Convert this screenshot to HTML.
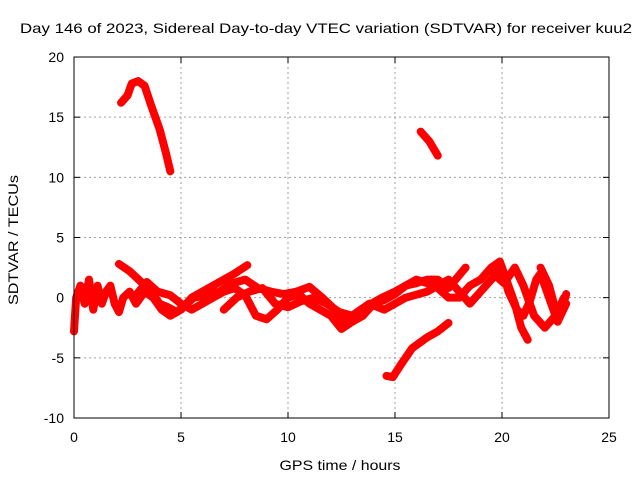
<!DOCTYPE html>
<html><head><meta charset="utf-8"><style>
body{margin:0;background:#fff}
svg{display:block;font-family:"Liberation Sans",sans-serif}
</style></head><body>
<svg id="chart" width="640" height="480">
<rect width="640" height="480" fill="#fff"/>
<text x="326" y="33" font-size="14" text-anchor="middle" textLength="612" lengthAdjust="spacingAndGlyphs">Day 146 of 2023, Sidereal Day-to-day VTEC variation (SDTVAR) for receiver kuu2</text>
<text x="340" y="470" font-size="14" text-anchor="middle" textLength="121" lengthAdjust="spacingAndGlyphs">GPS time / hours</text>
<text x="18" y="240" font-size="14" text-anchor="middle" textLength="130" lengthAdjust="spacingAndGlyphs" transform="rotate(-90 18 240)">SDTVAR / TECUs</text>
<g id="grid"></g>
<g id="ticks"></g>
<g id="series"></g>
<rect x="74" y="57" width="535" height="361" fill="none" stroke="#000" stroke-width="1"/>
</svg>
<script>
const xTicks=[0,5,10,15,20,25];
const yTicks=[-10,-5,0,5,10,15,20];
const trackA=[[0,-2.8],[0.1,0],[0.3,1],[0.5,-0.5],[0.7,1.5],[0.9,-1],[1.1,1],[1.3,-0.5],[1.5,0.5],[1.7,1],[1.9,-0.5],[2.1,-1.2],[2.3,0],[2.6,0.5],[2.9,-0.5],[3.3,0.5],[3.7,0],[4.1,-1],[4.5,-1.5],[5,-1],[5.5,0],[6,0.5],[6.5,1],[7,1.5],[7.5,2],[8.1,2.7]];
const trackB=[[2.1,2.8],[2.6,2.2],[3.2,1.2],[3.6,0.5],[4.0,-0.5],[4.4,-0.8],[4.8,-1.2],[5.2,-0.6],[5.6,0],[6.2,0.2],[6.8,0.5],[7.4,1.2],[8,1.5],[8.6,0.8],[9.2,0.5],[9.8,0.3],[10.4,0.5],[11,0.9],[11.6,0],[12.2,-1],[12.6,-2],[13,-1.5],[13.4,-1],[13.8,-0.6],[14.4,0],[15,0.5],[15.5,1],[16,1.2],[16.5,1.5],[17,1.5],[17.5,0.8],[18.3,2.5]];
const trackC=[[2.8,0],[3.4,1.3],[3.9,0.5],[4.5,0.2],[5,-0.5],[5.5,-1],[6,-0.5],[6.5,0],[7,0.5],[7.5,0.8],[8,0.2],[8.5,-1.5],[9,-1.8],[9.5,-1],[10,0],[10.5,0.3],[11,-0.5],[11.5,-1],[12,-1.5],[12.5,-2.6],[13,-2],[13.5,-1.5],[14,-0.5],[14.5,-0.2],[15,0.3],[15.5,1],[16,1.5],[16.5,1.2],[17,0.8],[17.5,0],[18,0],[18.5,1],[19,1.5],[19.5,2.5],[19.9,3],[20.2,1.5],[20.6,-0.5],[20.9,-2.5],[21.2,-3.5]];
const trackD=[[7,-1],[7.6,0],[8.2,0.5],[8.8,0.8],[9.4,-0.5],[10,-0.8],[10.6,-0.3],[11.2,0],[11.8,-0.5],[12.4,-1.2],[13,-1.5],[13.8,-0.5],[14.5,-1],[15,-0.5],[15.5,0],[16.5,0.5],[17.5,1.5],[18,0.5],[18.5,-0.5],[19,0.5],[19.5,1.5],[20,2.5],[20.3,0.5],[20.7,-1],[21,-1.5],[21.3,-0.3],[21.6,1.5],[21.8,2],[22.2,0],[22.6,-2],[23,-0.5]];
const trackE=[[19.6,2],[20.1,1.2],[20.6,2.5],[21,1],[21.5,-1.5],[22,-2.5],[22.5,-1.5],[22.9,0]];
const trackF=[[21.8,2.5],[22.2,1],[22.5,-1],[22.8,-1],[23,0.3]];
const trackHigh=[[2.2,16.2],[2.5,16.8],[2.7,17.8],[3.0,18],[3.3,17.6],[3.6,16],[4.0,14],[4.3,12],[4.5,10.5]];
const trackMid=[[16.2,13.8],[16.6,13],[17.0,11.8]];
const trackLow=[[14.6,-6.5],[14.9,-6.6],[15.3,-5.5],[15.8,-4.2],[16.5,-3.3],[17.0,-2.8],[17.5,-2.1]];
const tracks=[trackA,trackB,trackC,trackD,trackE,trackF,trackHigh,trackMid,trackLow];
const X0=74,X1=609,Y0=418,Y1=57;
const sx=h=>X0+(h-0)/25*(X1-X0);
const sy=v=>Y0-(v+10)/30*(Y0-Y1);
const NS="http://www.w3.org/2000/svg";
const grid=document.getElementById('grid'),ticks=document.getElementById('ticks'),series=document.getElementById('series');
function mk(tag,at,parent){const e=document.createElementNS(NS,tag);for(const k in at)e.setAttribute(k,at[k]);parent.appendChild(e);return e;}
xTicks.forEach(t=>{
  const x=sx(t);
  if(t>0&&t<25){const g=mk('line',{x1:x,x2:x,y1:Y1,y2:Y0,stroke:'#a0a0a0','stroke-dasharray':'2,3'},grid);
  
  }
  mk('line',{x1:x,x2:x,y1:Y0,y2:Y0-6,stroke:'#000'},ticks);
  mk('line',{x1:x,x2:x,y1:Y1,y2:Y1+6,stroke:'#000'},ticks);
  const l=mk('text',{x:x,y:Y0+24,'font-size':14,'text-anchor':'middle'},ticks);l.textContent=t;
  
  
});
yTicks.forEach(t=>{
  const y=sy(t);
  if(t>-10&&t<20){const g=mk('line',{x1:X0,x2:X1,y1:y,y2:y,stroke:'#a0a0a0','stroke-dasharray':'2,3'},grid);
  
  }
  mk('line',{x1:X0,x2:X0+6,y1:y,y2:y,stroke:'#000'},ticks);
  mk('line',{x1:X1,x2:X1-6,y1:y,y2:y,stroke:'#000'},ticks);
  const l=mk('text',{x:X0-10,y:y+5,'font-size':14,'text-anchor':'end'},ticks);l.textContent=t;
  
  
});
tracks.forEach(tr=>{
  const p=mk('polyline',{points:tr.map(d=>sx(d[0])+','+sy(d[1])).join(' '),fill:'none',stroke:'#ff0000','stroke-width':8,'stroke-linejoin':'round','stroke-linecap':'round'},series);
  
  
});
</script>
</body></html>
